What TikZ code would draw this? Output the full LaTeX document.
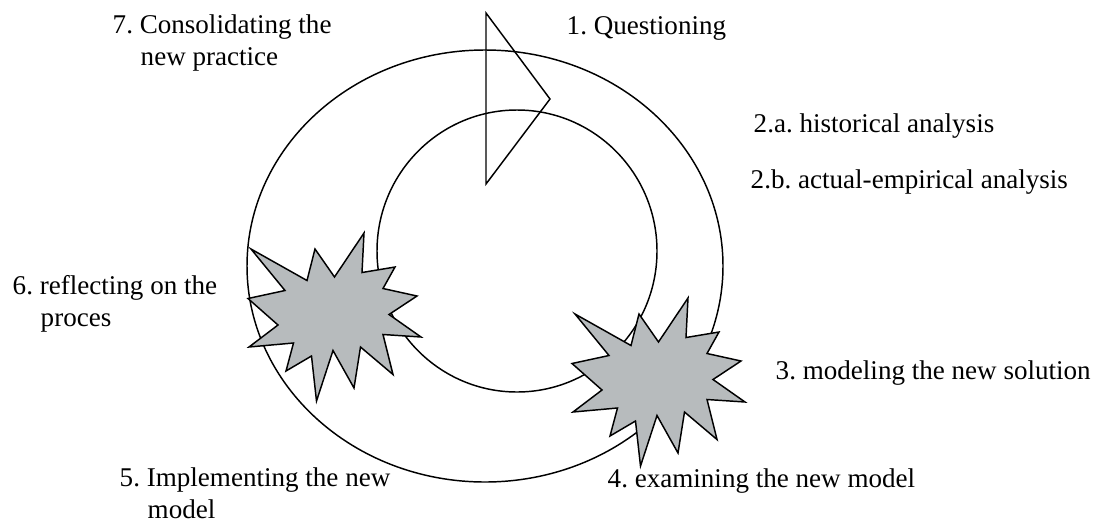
\documentclass[tikz,border=0pt]{standalone}
\usepackage{fontspec}
\setmainfont{Liberation Serif}
\usetikzlibrary{positioning}
\definecolor{burstgray}{RGB}{183,187,189}

\begin{document}
\begin{tikzpicture}[x=0.75pt,y=-0.75pt,line width=1.1pt,
    lbl/.style={anchor=base west,inner sep=0pt,align=left,
      font=\fontsize{20.3}{23.3}\selectfont\frenchspacing}]
  \useasboundingbox (0,0) rectangle (1103,522);
  % the two rings and the start arrow
  \draw (485,266) ellipse [x radius=178.5pt,y radius=162pt];
  \draw (517,251) ellipse [x radius=105pt,y radius=105.75pt];
  \draw (486,13) -- (550,99) -- (486,184) -- cycle;
  % bursts
  \foreach \p in {(333,313),(657,378)}
    \filldraw[fill=burstgray,shift={\p}] (-82,-64) -- (-26,-32.5) -- (-18,-64) -- (1.5,-36)
      -- (31,-80) -- (29,-40.5) -- (62,-46) -- (50,-24.5) -- (84,-17) -- (56,1.5)
      -- (88,24) -- (50,21.5) -- (60,61.5) -- (27.5,34) -- (21,75) -- (0,37.5)
      -- (-16.5,88) -- (-21.5,43) -- (-47,58) -- (-39.5,30) -- (-84,34) -- (-55,12)
      -- (-85,-14.5) -- (-48,-22.5) -- cycle;
  % labels (multi-line ones sit on their last baseline)
  \node[lbl] (questioning) at (566,34) {1. Questioning};
  \node[lbl] (histana) at (753,132) {2.a. historical analysis};
  \node[lbl] (empana) at (750,188) {2.b. actual-empirical analysis};
  \node[lbl] (modeling) at (775,379) {3. modeling the new solution};
  \node[lbl] (examining) at (607,487) {4. examining the new model};
  \node[lbl] (implementing) at (119,518) {5. Implementing the new\\\hspace*{21pt}model};
  \node[lbl] (reflecting) at (12,326) {6. reflecting on the\\\hspace*{21pt}proces};
  \node[lbl] (consolidating) at (112,65) {7. Consolidating the\\\hspace*{21pt}new practice};
\end{tikzpicture}
\end{document}
